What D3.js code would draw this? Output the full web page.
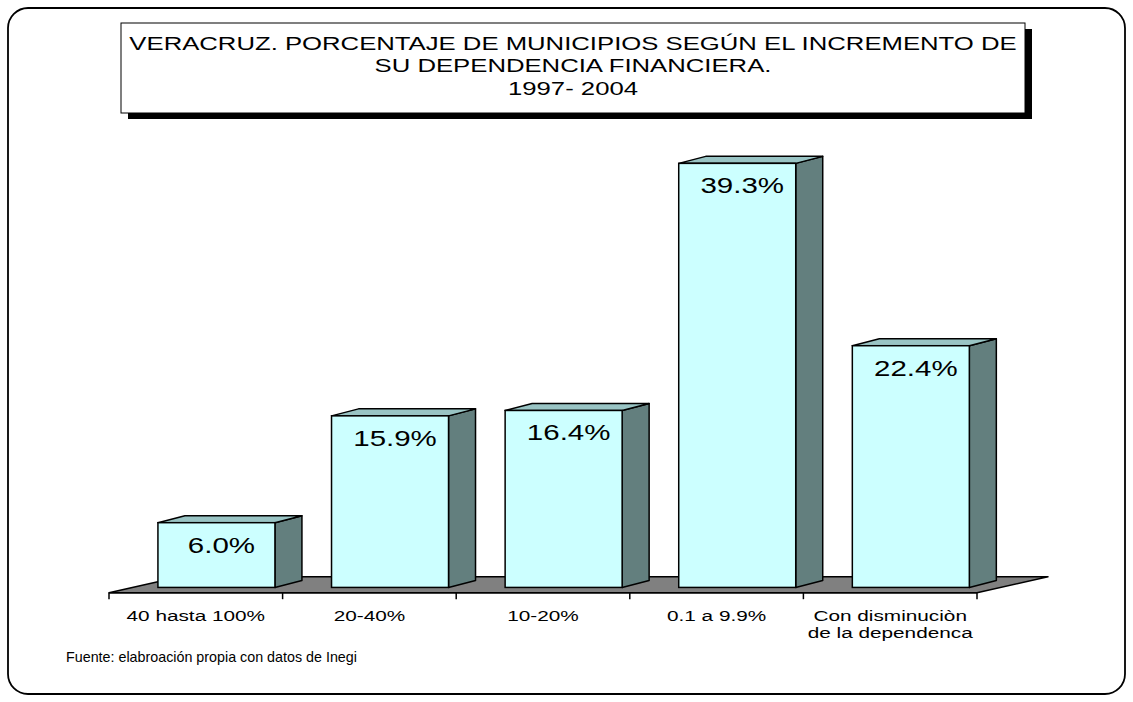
<!DOCTYPE html>
<html>
<head>
<meta charset="utf-8">
<script src="https://cdn.jsdelivr.net/npm/d3@7"></script>
<style>
  html, body { margin: 0; padding: 0; background: #ffffff; }
  svg { display: block; }
  text { font-family: "Liberation Sans", Arial, sans-serif; fill: #000; }
</style>
</head>
<body>
<svg id="chart" width="1133" height="702"></svg>
<script>
// ---- data ----
const titleLines = [
  "VERACRUZ. PORCENTAJE DE MUNICIPIOS SEGÚN EL INCREMENTO DE",
  "SU DEPENDENCIA FINANCIERA.",
  "1997- 2004"
];
const categories = [
  ["40 hasta 100%"],
  ["20-40%"],
  ["10-20%"],
  ["0.1 a 9.9%"],
  ["Con disminuciòn", "de la dependenca"]
];
const values = [6.0, 15.9, 16.4, 39.3, 22.4];
const valueLabels = ["6.0%", "15.9%", "16.4%", "39.3%", "22.4%"];
const sourceNote = "Fuente: elabroación propia con datos de Inegi";

// ---- layout ----
const svg = d3.select("#chart");
const SX = 1.34;              // horizontal text stretch of the original
const floorY = 592.7;          // front edge of floor
const DX = 71, DY = 16;        // floor depth offset
const z0 = 0.33;               // bar front depth fraction
const bdx = 27, bdy = 7;       // bar depth offset
const barW = 117;

const keys = categories.map(c => c.join(" "));
const x = d3.scaleBand().domain(keys).range([109, 977]).padding(0);
const h = d3.scaleLinear().domain([0, 40]).range([0, 431.6]);

// outer frame
svg.append("rect")
  .attr("x", 8).attr("y", 8).attr("width", 1117).attr("height", 686)
  .attr("rx", 20).attr("ry", 20)
  .attr("fill", "#fff").attr("stroke", "#000").attr("stroke-width", 1.8);

// title box with shadow
svg.append("rect").attr("x", 128).attr("y", 29).attr("width", 904).attr("height", 90).attr("fill", "#000");
svg.append("rect").attr("x", 121).attr("y", 23).attr("width", 904).attr("height", 90)
  .attr("fill", "#fff").attr("stroke", "#000").attr("stroke-width", 1);
const titleY = [50, 72, 95];
svg.selectAll("text.title").data(titleLines).join("text")
  .attr("class", "title")
  .attr("text-anchor", "middle")
  .attr("font-size", 18.5)
  .attr("transform", (d, i) => `translate(573,${titleY[i]}) scale(1.39,1)`)
  .text(d => d);

// floor
const x0 = x.range()[0], x1 = x.range()[1];
svg.append("polygon")
  .attr("points", [[x0, floorY], [x1, floorY], [x1 + DX, floorY - DY], [x0 + DX, floorY - DY]].map(p => p.join(",")).join(" "))
  .attr("fill", "#808080").attr("stroke", "#000").attr("stroke-width", 1.5).attr("stroke-linejoin", "round");

// axis ticks at band edges
const edges = keys.map(k => x(k)).concat([x1]);
svg.selectAll("line.tick").data(edges).join("line")
  .attr("class", "tick")
  .attr("x1", d => d).attr("x2", d => d)
  .attr("y1", floorY).attr("y2", floorY + 6.5)
  .attr("stroke", "#000").attr("stroke-width", 1.5);
svg.append("line").attr("x1", x0).attr("x2", x1).attr("y1", floorY).attr("y2", floorY)
  .attr("stroke", "#000").attr("stroke-width", 1.5);

// category labels
const catG = svg.selectAll("g.cat").data(categories).join("g")
  .attr("class", "cat")
  .attr("transform", (d, i) => `translate(${x(keys[i]) + x.bandwidth() / 2},621)`);
catG.selectAll("text").data(d => d).join("text")
  .attr("text-anchor", "middle")
  .attr("font-size", 15.5)
  .attr("transform", (d, j) => `translate(0,${j * 17}) scale(${SX},1)`)
  .text(d => d);

// bars
const bars = values.map((v, i) => {
  const xl = x(keys[i]) + 25.5 + z0 * DX;
  const yb = floorY - z0 * DY;
  const yt = yb - h(v);
  return { v, i, xl, xr: xl + barW, yb, yt };
});
const bg = svg.selectAll("g.bar").data(bars).join("g").attr("class", "bar");
const pts = a => a.map(p => p.join(",")).join(" ");
bg.append("polygon") // side
  .attr("points", d => pts([[d.xr, d.yt], [d.xr + bdx, d.yt - bdy], [d.xr + bdx, d.yb - bdy], [d.xr, d.yb]]))
  .attr("fill", "#637F7E").attr("stroke", "#000").attr("stroke-width", 1.5).attr("stroke-linejoin", "round");
bg.append("polygon") // top
  .attr("points", d => pts([[d.xl, d.yt], [d.xl + bdx, d.yt - bdy], [d.xr + bdx, d.yt - bdy], [d.xr, d.yt]]))
  .attr("fill", "#99C4C4").attr("stroke", "#000").attr("stroke-width", 1.5).attr("stroke-linejoin", "round");
bg.append("rect") // front
  .attr("x", d => d.xl).attr("y", d => d.yt)
  .attr("width", barW).attr("height", d => d.yb - d.yt)
  .attr("fill", "#CCFFFF").attr("stroke", "#000").attr("stroke-width", 1.5);
bg.append("text")
  .attr("text-anchor", "middle")
  .attr("font-size", 22.5)
  .attr("transform", d => `translate(${d.xl + barW / 2 + 5},${d.yt + 30}) scale(1.31,1)`)
  .text(d => valueLabels[d.i]);

// source note
svg.append("text")
  .attr("font-size", 14.3)
  .attr("transform", `translate(66,662)`)
  .text(sourceNote);
</script>
</body>
</html>
